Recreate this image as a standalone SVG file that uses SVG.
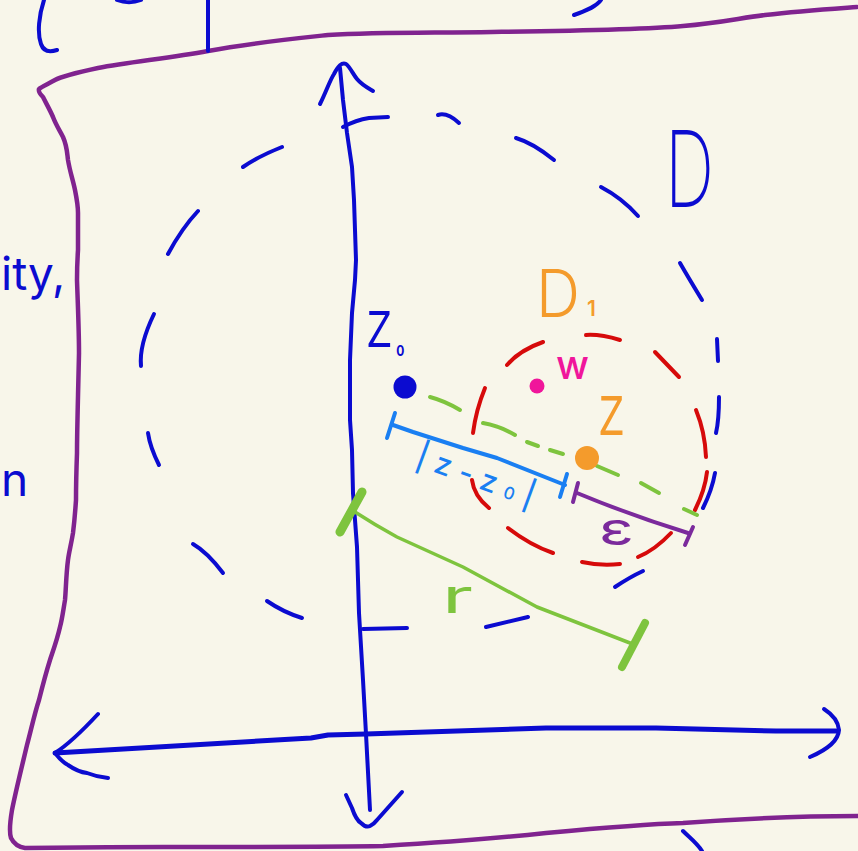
<svg xmlns="http://www.w3.org/2000/svg" width="858" height="851" viewBox="0 0 858 851">
<style>
.s{fill:none;stroke-linecap:round;stroke-linejoin:round}
.blue{stroke:#0b0bd0;stroke-width:4}
.frame{stroke:#80238f;stroke-width:4.5}
.red{stroke:#d60a0a;stroke-width:4}
.green{stroke:#7ec43e;stroke-width:4}
.lblue{stroke:#1a7ff2;stroke-width:4}
.purple{stroke:#7b2a9c;stroke-width:4}
.t{font-family:Inter,Lato,"Open Sans","Noto Sans","DejaVu Sans",sans-serif;stroke:none}
</style>
<rect width="858" height="851" fill="#f8f6ea"/>

<g id="frame" class="s frame">
<path d="M857,7 C830,9 800,11 765,15 C740,18 720,23 683,26 C640,30 560,31 492,32 C430,33 380,32 328,35 C290,39 250,43 208,51 C170,58 130,62 98,68 C75,73 62,76 55,80 C48,84 41,87 39,89 C38,92 41,95 43,97 C47,105 50,110 53,117 C56,125 60,131 63,137 C67,146 67,152 68,160 C70,172 73,180 75,190 C77,200 78,207 78,213 C78,230 78,240 78,250 C77,265 77,272 77,280 C78,310 79,330 79,353 C78,400 77,430 77,453 C76,480 76,492 76,500 C75,515 74,525 73,533 C71,545 69,552 68,560 C66,575 66,590 65,600 C63,612 62,620 60,627 C57,640 54,648 50,660 C45,676 42,688 39,700 C35,712 31,730 27,745 C23,762 16,790 12,810 C10,822 9,832 11,838 C14,844 18,847 25,848 C60,848 120,847 164,847 C250,847 330,847 383,846 C450,842 500,838 546,833 C600,828 650,824 683,823 C750,818 810,816 858,816"/>
</g>

<g id="scraps" class="s blue">
<path d="M44,0 C39,15 37,33 41,44 C43,50 48,53 57,50"/>
<path d="M117,0 C125,3 133,3 141,0"/>
<path d="M208,0 C208,18 208,35 208,51"/>
<path d="M601,0 C597,6 588,10 574,15"/>
<path d="M683,831 C690,838 697,843 702,851"/>
<text class="t" x="1" y="290" font-size="46" font-weight="400" fill="#0b0bd0">ity,</text>
<text class="t" x="1" y="496" font-size="46" font-weight="400" fill="#0b0bd0">n</text>
</g>

<g id="axes" class="s blue">
<path d="M340,68 L343,100 L347,133 L352,167 L354,200 L355,230 L356,260 L355,280 L352,313 L350,360 L350,420 L352,450 L353,493 L357,547 L359,613 L363,680 L366,734 L370,810"/>
<path d="M320,104 C326,92 330,80 334,74 C338,66 342,62 346,64 C350,67 353,74 357,79 C362,85 368,88 373,91"/>
<path d="M346,795 L352,808 Q356,820 361,823 Q366,828 370,826 Q374,824 377,820 L402,792"/>
<path d="M55,753 L311,738 L328,735 L366,734 L546,728 L656,728 L776,731 L836,731" stroke-width="5"/>
<path d="M98,714 Q72,742 55,753 Q62,762 68,765 Q78,772 87,773 Q97,777 108,778"/>
<path d="M824,709 Q838,718 839,730 Q838,745 810,757"/>
</g>

<g id="disk-D" class="s blue">
<path d="M343,127 Q356,120 369,118 L388,117"/>
<path d="M438,115 Q447,112 459,123"/>
<path d="M516,138 Q533,143 554,160"/>
<path d="M601,187 Q622,198 638,216"/>
<path d="M680,263 Q688,277 702,300"/>
<path d="M717,339 L718,361"/>
<path d="M719,397 Q719,420 716,433"/>
<path d="M715,473 Q712,490 703,508"/>
<path d="M643,571 Q630,577 615,587"/>
<path d="M528,617 L486,627"/>
<path d="M407,628 L363,629"/>
<path d="M302,618 Q283,612 267,601"/>
<path d="M223,573 Q207,552 193,544"/>
<path d="M159,465 Q150,447 148,433"/>
<path d="M141,366 Q139,345 154,314"/>
<path d="M168,254 Q182,228 198,211"/>
<path d="M243,167 Q259,156 282,147"/>
<text class="t" x="665" y="207" font-size="106" font-weight="200" textLength="49" lengthAdjust="spacingAndGlyphs" fill="#0b0bd0">D</text>
</g>

<g id="disk-D1" class="s red">
<path d="M507,365 Q520,350 543,342"/>
<path d="M586,335 Q600,334 620,340"/>
<path d="M655,352 L679,377"/>
<path d="M696,410 Q705,432 706,457"/>
<path d="M707,472 Q705,490 695,510"/>
<path d="M671,533 Q655,550 638,557"/>
<path d="M620,564 Q600,566 582,562"/>
<path d="M553,553 Q530,545 508,528"/>
<path d="M472,480 Q474,496 489,508"/>
<path d="M485,388 Q476,410 473,433"/>
<text class="t" x="536" y="317" font-size="66" font-weight="300" textLength="44" lengthAdjust="spacingAndGlyphs" fill="#f49b2c">D</text>
<text class="t" x="587" y="316" font-size="21" font-weight="600" fill="#f49b2c">1</text>
</g>

<g id="connectors">
<g id="z0-z-dashed" class="s green">
<path d="M430,397 Q445,401 460,410"/>
<path d="M483,423 Q500,426 515,435"/>
<path d="M527,442 L538,446"/>
<path d="M550,450 L563,454"/>
<path d="M597,466 L618,475"/>
<path d="M641,483 L659,493"/>
<path d="M684,509 L697,515"/>
</g>
<g id="r-measure" class="s green">
<path d="M355,512 Q375,525 397,537 L463,567 L537,607 L630,643" stroke-width="3.5"/>
<path d="M362,492 L340,532" stroke-width="9"/>
<path d="M645,623 L622,667" stroke-width="8"/>
</g>
<g id="dist-measure" class="s lblue">
<path d="M393,425 L413,432 L463,448 L497,458 L565,485"/>
<path d="M395,413 L387,438"/>
<path d="M567,474 L560,497"/>
</g>
<g id="eps-measure" class="s purple">
<path d="M577,493 Q630,515 688,533"/>
<path d="M578,483 L573,502"/>
<path d="M693,527 L685,545"/>
</g>
</g>

<g id="point-z0">
<circle cx="405" cy="387" r="11.5" fill="#0b0bd0"/>
<text class="t" transform="translate(365,347) scale(0.8,1)" font-size="66" font-weight="300" fill="#0b0bd0">z<tspan x="39" y="9" font-size="15" font-weight="700">0</tspan></text>
</g>

<g id="point-w">
<circle cx="537" cy="386" r="7.5" fill="#f0169b"/>
<text class="t" x="556" y="379" font-size="40" font-weight="500" textLength="33" lengthAdjust="spacingAndGlyphs" fill="#f0169b">w</text>
</g>

<g id="point-z">
<circle cx="587" cy="458" r="12" fill="#f49b2c"/>
<text class="t" x="597" y="435" font-size="72" font-weight="300" textLength="29" lengthAdjust="spacingAndGlyphs" fill="#f49b2c">z</text>
</g>

<g id="labels">
<text class="t" transform="translate(414,465) rotate(20)" font-size="30" font-weight="500" textLength="124" lengthAdjust="spacing" fill="#1a7ff2">|z-z<tspan font-size="17">0</tspan>|</text>
<text class="t" x="599" y="545" font-size="46" font-weight="400" textLength="35" lengthAdjust="spacingAndGlyphs" fill="#7b2a9c">ε</text>
<text class="t" x="442" y="613" font-size="48" font-weight="400" textLength="31" lengthAdjust="spacingAndGlyphs" fill="#7ec43e">r</text>
</g>
</svg>
